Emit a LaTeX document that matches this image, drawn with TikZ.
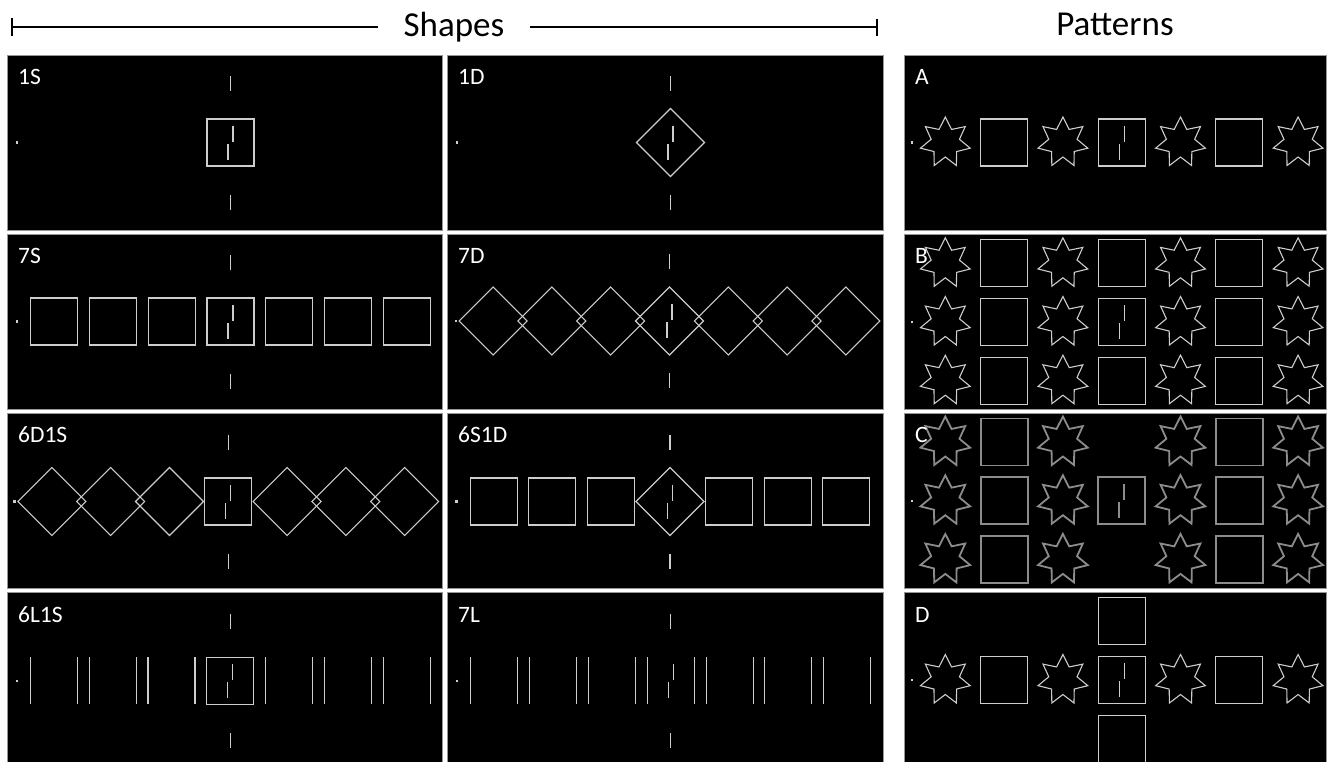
\documentclass[tikz,border=0pt]{standalone}
\usepackage{fontspec}
\setmainfont{Carlito}
\definecolor{shp}{RGB}{205,205,205}
\definecolor{shpdim}{RGB}{140,140,140}
\definecolor{pborder}{RGB}{150,150,150}
\tikzset{
  stim/.style={draw=shp, line width=1.1pt, line join=miter},
  dimstim/.style={draw=shpdim, line width=1.8pt, line join=miter},
  panel/.style={fill=black, draw=pborder, line width=0.8pt},
  lab/.style={text=white, font=\fontsize{23.5}{23.5}\selectfont, anchor=base west, inner sep=0pt},
  ttl/.style={text=black, font=\fontsize{35}{35}\selectfont, anchor=base, inner sep=0pt},
  rule/.style={draw=black, line width=1.9pt}
}
\def\stimsty{stim}
\def\sp{58.8}
\newcommand\sqr[2]{\draw[\stimsty] ({#1-23.5},{#2-23.5}) rectangle ({#1+23.5},{#2+23.5});}
\newcommand\dmd[2]{\draw[\stimsty] ({#1-34},{#2}) -- ({#1},{#2-34}) -- ({#1+34},{#2}) -- ({#1},{#2+34}) -- cycle;}
\newcommand\vln[2]{\draw[\stimsty] ({#1-23.5},{#2-23.5}) -- ({#1-23.5},{#2+23.5}) ({#1+23.5},{#2-23.5}) -- ({#1+23.5},{#2+23.5});}
\newcommand\strr[2]{\draw[\stimsty] ({#1},{#2-25.5}) \foreach \k in {0,...,6}{ -- ({#1+14.5*cos(90+\k*360/7+180/7)},{#2-14.5*sin(90+\k*360/7+180/7)}) -- ({#1+25.5*cos(90+(\k+1)*360/7)},{#2-25.5*sin(90+(\k+1)*360/7)}) } -- cycle;}
\newcommand\fixn[2]{\draw[\stimsty] ({#1+2.5},{#2-17}) -- ({#1+2.5},{#2-1}) ({#1-2.5},{#2+1}) -- ({#1-2.5},{#2+17});}
\newcommand\tks[2]{\draw[\stimsty] ({#1},{#2-67}) -- ({#1},{#2-52}) ({#1},{#2+52}) -- ({#1},{#2+67});}
\newcommand\fdot[2]{\fill[shp] ({#1-1.1},{#2-1.1}) rectangle ({#1+1.1},{#2+1.1});}
% pattern row without the center element
\newcommand\patrow[2]{%
  \foreach \k in {-3,-1,1,3}{\pgfmathsetmacro\xx{#1+\k*\sp}\strr{\xx}{#2}}%
  \foreach \k in {-2,2}{\pgfmathsetmacro\xx{#1+\k*\sp}\sqr{\xx}{#2}}}
\begin{document}
\begin{tikzpicture}[x=1pt,y=-1pt]
\useasboundingbox (0,0) rectangle (1331,761);
\clip (0,0) rectangle (1331,761);
\fill[white] (0,0) rectangle (1331,761);

% ---- titles ----
\node[ttl] (shapes) at (454,36.7) {Shapes};
\node[ttl] (patterns) at (1115,35) {Patterns};
\coordinate (la) at (11.7,26.7);
\coordinate (lb) at (378.3,26.7);
\coordinate (ra) at (530,26.7);
\coordinate (rb) at (877.3,26.7);
\coordinate (la1) at (11.7,18);
\coordinate (la2) at (11.7,36);
\coordinate (rb1) at (877.3,18.5);
\coordinate (rb2) at (877.3,35.5);
\draw[rule] (la) -- (lb);
\draw[rule] (ra) -- (rb);
\draw[rule] (la1) -- (la2);
\draw[rule] (rb1) -- (rb2);

% ---- panels ----
\foreach \ya/\yb in {55/230,234/409,413.5/588,592.5/768}{
  \path[panel] (7,\ya) rectangle (442,\yb);
  \path[panel] (447,\ya) rectangle (883,\yb);
  \path[panel] (904,\ya) rectangle (1326,\yb);
}

% ---- labels ----
\node[lab] (t1S) at (18,84) {1S};
\node[lab] (t1D) at (458,84) {1D};
\node[lab] (t7S) at (18,263) {7S};
\node[lab] (t7D) at (458,263) {7D};
\node[lab] (t6D1S) at (18,442.5) {6D1S};
\node[lab] (t6S1D) at (458,442.5) {6S1D};
\node[lab] (t6L1S) at (18,622) {6L1S};
\node[lab] (t7L) at (458,622) {7L};

% ---- 1S ----
\sqr{230.5}{142.5}\fixn{230.5}{142.5}\tks{230.5}{142.5}\fdot{17}{142.5}
% ---- 1D ----
\dmd{670.5}{142.5}\fixn{670.5}{142.5}\tks{670.5}{142.5}\fdot{457}{142.5}
% ---- 7S ----
\foreach \k in {-3,...,3}{\pgfmathsetmacro\xx{230.5+\k*\sp}\sqr{\xx}{321.5}}
\fixn{230.5}{321.5}\tks{230.5}{321.5}\fdot{17}{321.5}
% ---- 7D ----
\foreach \k in {-3,...,3}{\pgfmathsetmacro\xx{669.5+\k*\sp}\dmd{\xx}{321}}
\fixn{669.5}{321}\tks{669.5}{321}\fdot{456}{321}
% ---- 6D1S ----
\foreach \k in {-3,-2,-1,1,2,3}{\pgfmathsetmacro\xx{228.3+\k*\sp}\dmd{\xx}{501.5}}
\sqr{228.3}{501.5}\fixn{228.3}{501.5}\tks{228.3}{501.5}\fdot{14.5}{501.5}
% ---- 6S1D ----
\foreach \k in {-3,-2,-1,1,2,3}{\pgfmathsetmacro\xx{670+\k*\sp}\sqr{\xx}{501.5}}
\dmd{670}{501.5}\fixn{670}{501.5}\tks{670}{501.5}\fdot{456.5}{501.5}
% ---- 6L1S ----
\foreach \k in {-3,-2,-1,1,2,3}{\pgfmathsetmacro\xx{230.3+\k*\sp}\vln{\xx}{680.8}}
\sqr{230.3}{680.8}\fixn{230.3}{680.8}\tks{230.3}{680.8}\fdot{16.8}{680.8}
% ---- 7L ----
\foreach \k in {-3,...,3}{\pgfmathsetmacro\xx{670.8+\k*\sp}\vln{\xx}{680.8}}
\fixn{670.8}{680.8}\tks{670.8}{680.8}\fdot{457.3}{680.8}

% ---- Pattern A ----
\patrow{1121.7}{142.5}
\sqr{1121.7}{142.5}\fixn{1121.7}{142.5}\fdot{911.7}{142.5}
% ---- Pattern B ----
\patrow{1121.7}{263.3}\sqr{1121.7}{263.3}
\patrow{1121.7}{322}\sqr{1121.7}{322}\fixn{1121.7}{322}
\patrow{1121.7}{380.7}\sqr{1121.7}{380.7}
\fdot{911.7}{322}
% ---- Pattern C ----
\begin{scope}
\def\stimsty{dimstim}
\patrow{1121.7}{442}
\patrow{1121.7}{500.7}\sqr{1121.7}{500.7}\fixn{1121.7}{500.7}
\patrow{1121.7}{559.4}
\end{scope}
\fdot{911.7}{500.7}
% ---- Pattern D ----
\patrow{1121.7}{680}
\sqr{1121.7}{680}\fixn{1121.7}{680}
\sqr{1121.7}{621.3}\sqr{1121.7}{738.7}
\fdot{911.7}{680}

% labels of patterns (drawn last, over the stars)
\node[lab] (tA) at (915,84) {A};
\node[lab] (tB) at (915,263) {B};
\node[lab] (tC) at (915,442.5) {C};
\node[lab] (tD) at (915,622) {D};
\end{tikzpicture}
\end{document}
